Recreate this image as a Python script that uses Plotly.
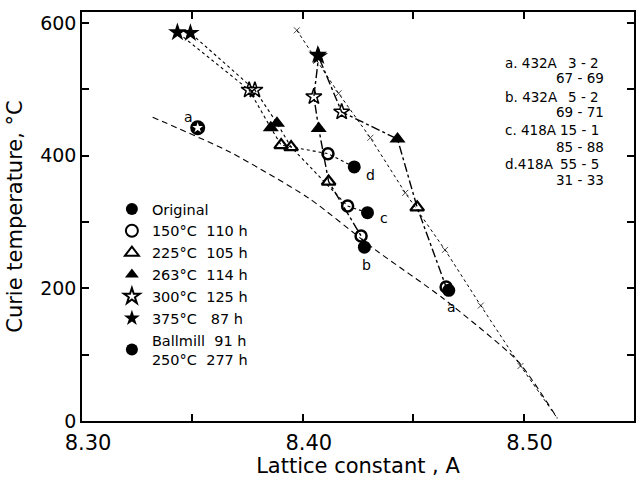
import plotly.graph_objects as go

# ---------------- data ----------------
samples = ["a", "b", "c", "d"]

lattice_original = [8.4661, 8.4279, 8.4293, 8.4233]
curie_original = [197, 262, 314, 383]

lattice_150 = [8.4649, 8.4264, 8.4203, 8.4114]
curie_150 = [202, 279, 324, 403]

lattice_225 = [8.4518, 8.4117, 8.3947, 8.3902]
curie_225 = [322, 361, 413, 416]

lattice_263 = [8.4429, 8.4072, 8.3883, 8.3855]
curie_263 = [425, 441, 449, 442]

lattice_300 = [8.4176, 8.4050, 8.3783, 8.3757]
curie_300 = [466, 489, 499, 499]

lattice_375 = [8.4068, 8.4072, 8.3491, 8.3432]
curie_375 = [552, 550, 585, 586]

lattice_ballmill = [8.3524]
curie_ballmill = [442]

# dashed reference curve
curve_lattice = [8.3320, 8.3667, 8.4027, 8.4329, 8.4635, 8.4977, 8.5153]
curve_curie = [458, 406, 336, 258, 185, 89, 4]

# calculated line with cross marks
calc_lattice = [8.3973, 8.4162, 8.4306, 8.4464, 8.4644, 8.4806, 8.4986, 8.5153]
calc_curie = [589, 494, 427, 344, 258, 174, 83, 4]

legend_names = ["Original", "150°C  110 h", "225°C  105 h", "263°C  114 h",
                "300°C  125 h", "375°C   87 h", "Ballmill  91 h<br>250°C  277 h"]

info_labels = ["a. 432A", "b. 432A", "c. 418A", "d.418A"]
info_first = ["3 - 2", "5 - 2", "15 - 1", "55 - 5"]
info_second = ["67 - 69", "69 - 71", "85 - 88", "31 - 33"]

# ---------------- layout geometry ----------------
W, H = 638, 478
ML, MR, MT, MB = 82, 2, 12, 57
PW, PH = W - ML - MR, H - MT - MB


def paper(px, py):
    return (px - ML) / PW, (H - MB - py) / PH


FONT = "DejaVu Sans"
fig = go.Figure()

# reference curves
fig.add_trace(go.Scatter(x=curve_lattice, y=curve_curie, mode="lines",
                         line=dict(color="black", width=1.1, dash="6px,4px", shape="spline", smoothing=0.6),
                         showlegend=False, hoverinfo="skip"))
fig.add_trace(go.Scatter(x=calc_lattice, y=calc_curie, mode="lines+markers",
                         line=dict(color="black", width=1, dash="3px,3px"),
                         marker=dict(symbol="x-thin", size=[6] * (len(calc_curie) - 1) + [0],
                                     line=dict(color="black", width=1)),
                         showlegend=False, hoverinfo="skip"))

# connecting lines per sample
series = [(lattice_original, curie_original), (lattice_150, curie_150), (lattice_225, curie_225),
          (lattice_263, curie_263), (lattice_300, curie_300), (lattice_375, curie_375)]
styles = {"a": ("dashdot", 1.4), "b": ("dashdot", 1.4), "c": ("dot", 1.1), "d": ("dot", 1.1)}
for i, s in enumerate(samples):
    xs = [sx[i] for sx, sy in series]
    ys = [sy[i] for sx, sy in series]
    dash, w = styles[s]
    fig.add_trace(go.Scatter(x=xs, y=ys, mode="lines",
                             line=dict(color="black", width=w, dash=dash),
                             showlegend=False, hoverinfo="skip"))

# markers
marker_defs = [
    (lattice_original, curie_original, dict(symbol="circle", size=13, color="black")),
    (lattice_150, curie_150, dict(symbol="circle-open", size=11, color="black", line=dict(width=2.5))),
    (lattice_225, curie_225, dict(symbol="triangle-up-open", size=12, color="black", line=dict(width=2.2))),
    (lattice_263, curie_263, dict(symbol="triangle-up", size=14, color="black")),
    (lattice_300, curie_300, dict(symbol="star-open", size=12, color="black", line=dict(width=1.5))),
    (lattice_375, curie_375, dict(symbol="star", size=14, color="black")),
]
for (xs, ys, mk), name in zip(marker_defs, legend_names[:6]):
    fig.add_trace(go.Scatter(x=xs, y=ys, mode="markers", name=name, marker=mk))

fig.add_trace(go.Scatter(x=lattice_ballmill, y=curie_ballmill, mode="markers", name=legend_names[6],
                         marker=dict(symbol="circle", size=15, color="black")))
fig.add_trace(go.Scatter(x=lattice_ballmill, y=curie_ballmill, mode="markers", showlegend=False,
                         marker=dict(symbol="star", size=8, color="white", line=dict(width=0))))

annotations = []
# sample labels near original points
shifts = {"a": (3, -17), "b": (2, -18), "c": (17, -5), "d": (16, -8)}
for i, s in enumerate(samples):
    dx, dy = shifts[s]
    annotations.append(dict(x=lattice_original[i], y=curie_original[i], xref="x", yref="y",
                            text=s, showarrow=False, xshift=dx, yshift=dy,
                            font=dict(family=FONT, size=14, color="black")))
annotations.append(dict(x=lattice_ballmill[0], y=curie_ballmill[0], xref="x", yref="y",
                        text="a", showarrow=False, xshift=-9, yshift=11,
                        font=dict(family=FONT, size=14, color="black")))

# info box (right)
rows_y = [(63, 78), (97, 112), (130, 147), (164, 180)]
for lab, f1, f2, (y1, y2) in zip(info_labels, info_first, info_second, rows_y):
    x0, yy = paper(505, y1)
    annotations.append(dict(x=x0, y=yy, xref="paper", yref="paper", text=lab, showarrow=False,
                            xanchor="left", yanchor="middle", font=dict(family=FONT, size=13.5, color="black")))
    x1, _ = paper(603, y1)
    annotations.append(dict(x=x1, y=yy, xref="paper", yref="paper", text=f1, showarrow=False,
                            xanchor="right", yanchor="middle", font=dict(family=FONT, size=13.5, color="black")))
    x2, yy2 = paper(608, y2)
    annotations.append(dict(x=x2, y=yy2, xref="paper", yref="paper", text=f2, showarrow=False,
                            xanchor="right", yanchor="middle", font=dict(family=FONT, size=13.5, color="black")))

lx, ly = paper(112, 193)
axis_common = dict(showgrid=False, zeroline=False, showline=True, linecolor="black", linewidth=1.6,
                   mirror="ticks", ticks="inside", ticklen=7, tickwidth=1.5, tickcolor="black")

fig.update_layout(
    width=W, height=H,
    margin=dict(l=ML, r=MR, t=MT, b=MB),
    paper_bgcolor="white", plot_bgcolor="white",
    font=dict(family=FONT, color="black"),
    xaxis=dict(range=[8.30, 8.55], tickvals=[8.30, 8.35, 8.40, 8.45, 8.50],
               ticktext=["8.30", "", "8.40", "", "8.50"], tickfont=dict(size=21),
               ticklabelshift=6, ticklabelstandoff=2,
               title=dict(text="Lattice constant , A", font=dict(size=21), standoff=2),
               **axis_common),
    yaxis=dict(range=[0, 616.6], tickvals=[0, 100, 200, 300, 400, 500, 600],
               ticktext=["0", "", "200", "", "400", "", "600"], tickfont=dict(size=19),
               title=dict(text="Curie temperature, °C", font=dict(size=21), standoff=12),
               **axis_common),
    legend=dict(x=lx, y=ly, xanchor="left", yanchor="top", bgcolor="rgba(0,0,0,0)",
                font=dict(family=FONT, size=14.5), itemsizing="constant"),
    annotations=annotations,
)

fig.write_html("out.html")
